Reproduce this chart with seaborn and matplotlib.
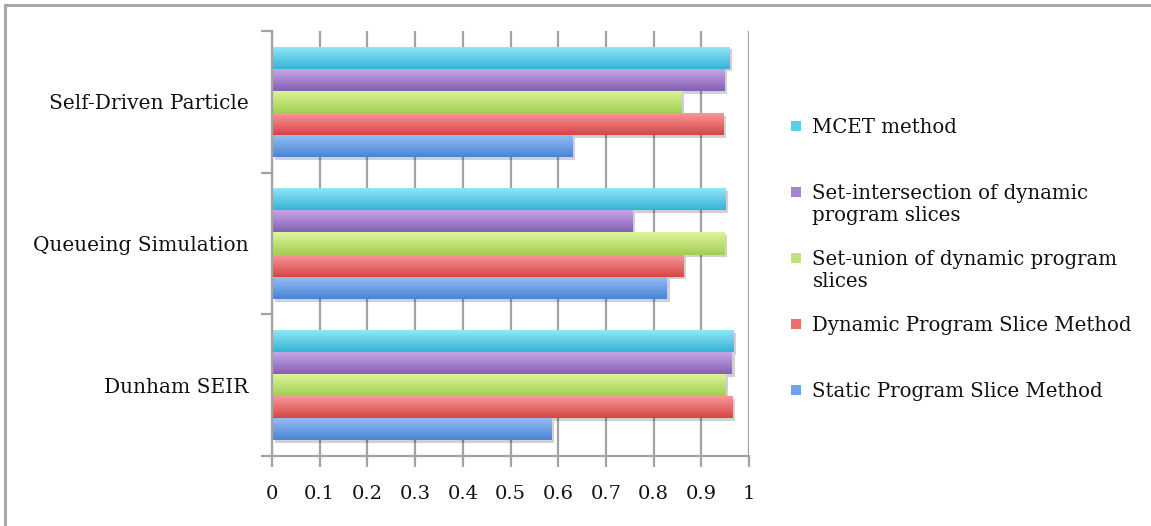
import numpy as np
import pandas as pd
import matplotlib
matplotlib.use("Agg")
import matplotlib.pyplot as plt
import matplotlib.patheffects as pe
from matplotlib.patches import Rectangle
from matplotlib.legend_handler import HandlerBase
from matplotlib.colors import to_rgb
import seaborn as sns

# ---- data ----
categories = ["Self-Driven Particle", "Queueing Simulation", "Dunham SEIR"]
methods = [
    "MCET method",
    "Set-intersection of dynamic\nprogram slices",
    "Set-union of dynamic program\nslices",
    "Dynamic Program Slice Method",
    "Static Program Slice Method",
]
mcet = [0.959, 0.950, 0.967]
set_intersection = [0.948, 0.756, 0.964]
set_union = [0.858, 0.948, 0.950]
dynamic_slice = [0.947, 0.862, 0.965]
static_slice = [0.629, 0.828, 0.586]
x_ticks = [0, 0.1, 0.2, 0.3, 0.4, 0.5, 0.6, 0.7, 0.8, 0.9, 1]

# gradient colours (light top, dark bottom) per method
grad_light = ["#93e9f8", "#c6aae8", "#ddf59c", "#fa9c9c", "#97bff3"]
grad_dark = ["#36b2d5", "#8660b3", "#a2cf50", "#d64545", "#4a84d5"]
base_cols = ["#5ccfe8", "#a585cf", "#bfe377", "#ec6f6f", "#6fa2e6"]

values = [mcet, set_intersection, set_union, dynamic_slice, static_slice]
df = pd.DataFrame(
    [(c, m, v[i]) for m, v in zip(methods, values) for i, c in enumerate(categories)],
    columns=["case", "method", "score"],
)

sns.set_theme(style="white")
plt.rcParams["font.family"] = ["DejaVu Serif"]

W, H = 1151, 526
fig = plt.figure(figsize=(W / 100, H / 100), dpi=100)
ax = fig.add_axes([272 / W, 1 - 456 / H, 477 / W, 425 / H])

palette = dict(zip(methods, base_cols))
sns.barplot(
    data=df, y="case", x="score", hue="method",
    order=categories, hue_order=methods, palette=palette,
    orient="h", width=0.78, ax=ax, legend=False, saturation=1,
)

# replace flat fills by vertical gradients with a soft drop shadow
bars = [p for p in ax.patches if isinstance(p, Rectangle)]
for p in bars:
    fc = p.get_facecolor()[:3]
    idx = int(np.argmin([np.sum((np.array(fc) - np.array(to_rgb(c))) ** 2) for c in base_cols]))
    light = np.array(to_rgb(grad_light[idx]))
    dark = np.array(to_rgb(grad_dark[idx]))
    t = np.linspace(0, 1, 64)[:, None]
    grad = (light * (1 - t) + dark * t)[:, None, :]
    x0, y0, w, h = p.get_x(), p.get_y(), p.get_width(), p.get_height()
    p.set_edgecolor("none")
    p.set_path_effects([pe.SimplePatchShadow(offset=(2, -2), shadow_rgbFace="#000000", alpha=0.18), pe.Normal()])
    im = ax.imshow(grad, extent=(x0, x0 + w, y0 + h, y0), origin="upper",
                   aspect="auto", interpolation="bilinear", zorder=p.get_zorder() + 0.1)
    im.set_clip_path(p)
ax.set_xlim(0, 1)
ax.set_ylim(2.5, -0.5)

# axes styling
grid_col = "#a3a3a3"
ax.set_xticks(x_ticks)
ax.set_xticklabels([f"{v:g}" for v in x_ticks])
ax.xaxis.grid(True, color=grid_col, linewidth=1.6)
ax.set_axisbelow(True)
ax.set_xlabel("")
ax.set_ylabel("")
for s in ["top", "right"]:
    ax.spines[s].set_visible(False)
for s in ["left", "bottom"]:
    ax.spines[s].set_color(grid_col)
    ax.spines[s].set_linewidth(1.6)
ax.tick_params(axis="x", which="major", direction="out", length=8, width=1.6,
               color=grid_col, pad=13, labelsize=14, labelcolor="#111111", bottom=True)
ax.tick_params(axis="y", which="major", length=0, pad=17, labelsize=14.5, labelcolor="#111111")
ax.set_yticks([-0.5, 0.5, 1.5, 2.5], minor=True)
ax.tick_params(axis="y", which="minor", direction="out", length=8, width=1.6,
               color=grid_col, left=True)


# legend marker: small square aligned with the first text line
class TopSquare(HandlerBase):
    def create_artists(self, legend, orig_handle, xdescent, ydescent,
                       width, height, fontsize, trans):
        s = 0.5 * fontsize
        r = Rectangle((-xdescent, -ydescent + height + 0.08 * fontsize - s), s, s,
                      facecolor=orig_handle.get_facecolor(), edgecolor="none",
                      transform=trans)
        return [r]


handles = [Rectangle((0, 0), 1, 1, facecolor=c) for c in base_cols]
labels = [m if "\n" in m else m + "\n " for m in methods]
leg = fig.legend(
    handles, labels, loc="upper left", bbox_to_anchor=(773 / W, 1 - 100 / H),
    frameon=False, fontsize=14.2, handler_map={Rectangle: TopSquare()},
    handlelength=0.6, handleheight=2.3, handletextpad=0.5, labelspacing=1.27,
)
for t in leg.get_texts():
    t.set_color("#111111")

# figure border (top and left edges)
fig.patches.append(Rectangle((5 / W, -0.05), 1.2, 1 - 5 / H + 0.05, transform=fig.transFigure,
                             fill=False, edgecolor="#a8a8a8", linewidth=2.2, zorder=10))

fig.savefig("out.png", dpi=100)
